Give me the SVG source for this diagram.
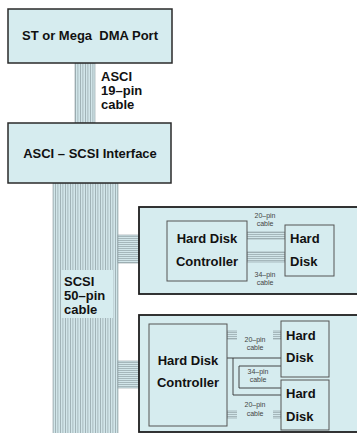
<svg xmlns="http://www.w3.org/2000/svg" width="357" height="433" viewBox="0 0 357 433">
<style>
.box{fill:#d6ecef;stroke:#2a2a2a;stroke-width:1.5}
.outer{fill:#d6ecef;stroke:#1e1e1e;stroke-width:1.8}
.inner{fill:#d6ecef;stroke:#555;stroke-width:1}
.t{font-family:"Liberation Sans",Arial,sans-serif;font-weight:bold;font-size:13px;fill:#111;white-space:pre}
.s{font-family:"Liberation Sans",Arial,sans-serif;font-size:7px;fill:#444;text-anchor:middle}
.vc{fill:url(#vstripe);stroke:#8a9a9e;stroke-width:0.6}
.hc{fill:url(#hstripe);stroke:#8a9a9e;stroke-width:0.6}
.wire{fill:none;stroke:#333;stroke-width:0.9}
.lbl{fill:#d6ecef}
</style>
<defs>
<pattern id="vstripe" width="2.5" height="4" patternUnits="userSpaceOnUse">
<rect width="2.5" height="4" fill="#d2e6ea"/>
<rect width="0.8" height="4" fill="#9aabaf"/>
</pattern>
<pattern id="hstripe" width="4" height="2" patternUnits="userSpaceOnUse">
<rect width="4" height="2" fill="#d2e6ea"/>
<rect width="4" height="0.8" fill="#9aabaf"/>
</pattern>
</defs>
<rect width="357" height="433" fill="#ffffff"/>
<g id="connectors">
<rect class="vc" x="75" y="63" width="20" height="60"/>
<rect class="vc" x="53" y="183" width="65" height="252"/>
<rect class="hc" x="118" y="235" width="49" height="28"/>
<rect class="hc" x="118" y="361" width="31" height="27"/>
</g>
<g id="scsi-label">
<rect class="lbl" x="61" y="270" width="52" height="48"/>
<text class="t" x="64" y="286">SCSI</text>
<text class="t" x="64" y="300">50–pin</text>
<text class="t" x="64" y="314">cable</text>
</g>
<g id="asci-label">
<text class="t" x="101" y="81">ASCI</text>
<text class="t" x="101" y="95">19–pin</text>
<text class="t" x="101" y="109">cable</text>
</g>
<g id="dma-port">
<rect class="box" x="8" y="9" width="164" height="54"/>
<text class="t" x="90" y="40" text-anchor="middle">ST or Mega  DMA Port</text>
</g>
<g id="interface">
<rect class="box" x="8" y="123" width="163" height="60"/>
<text class="t" x="90" y="158" text-anchor="middle">ASCI – SCSI Interface</text>
</g>
<g id="unit1">
<rect class="outer" x="139" y="207" width="230" height="87"/>
<rect class="hc" x="247" y="232" width="38" height="7"/>
<rect class="hc" x="247" y="252" width="38" height="10"/>
<text class="s" x="265" y="218">20–pin</text>
<text class="s" x="265" y="226">cable</text>
<text class="s" x="265" y="277">34–pin</text>
<text class="s" x="265" y="285">cable</text>
<g id="controller1">
<rect class="inner" x="167" y="221" width="80" height="60"/>
<text class="t" x="207" y="243" text-anchor="middle">Hard Disk</text>
<text class="t" x="207" y="266" text-anchor="middle">Controller</text>
</g>
<g id="disk1">
<rect class="inner" x="285" y="225" width="49" height="51"/>
<text class="t" x="290" y="243">Hard</text>
<text class="t" x="290" y="266">Disk</text>
</g>
</g>
<g id="unit2">
<rect class="outer" x="139" y="315" width="230" height="117"/>
<rect class="hc" x="227" y="331" width="54" height="8"/>
<rect class="lbl" x="237" y="330" width="36" height="24"/>
<text class="s" x="255" y="342">20–pin</text>
<text class="s" x="255" y="350">cable</text>
<rect class="hc" x="227" y="411" width="54" height="7"/>
<rect class="lbl" x="237" y="398" width="36" height="22"/>
<text class="s" x="255" y="407">20–pin</text>
<text class="s" x="255" y="416">cable</text>
<path class="wire" d="M227,358 H281 M233,358 V395 H281 M281,366 H239 V388 H281"/>
<text class="s" x="258" y="374">34–pin</text>
<text class="s" x="258" y="382">cable</text>
<g id="controller2">
<rect class="inner" x="149" y="324" width="78" height="102"/>
<text class="t" x="188" y="365" text-anchor="middle">Hard Disk</text>
<text class="t" x="188" y="387" text-anchor="middle">Controller</text>
</g>
<g id="disk2a">
<rect class="inner" x="281" y="321" width="48" height="56"/>
<text class="t" x="286" y="340">Hard</text>
<text class="t" x="286" y="362">Disk</text>
</g>
<g id="disk2b">
<rect class="inner" x="281" y="380" width="48" height="50"/>
<text class="t" x="286" y="398">Hard</text>
<text class="t" x="286" y="421">Disk</text>
</g>
</g>
</svg>
